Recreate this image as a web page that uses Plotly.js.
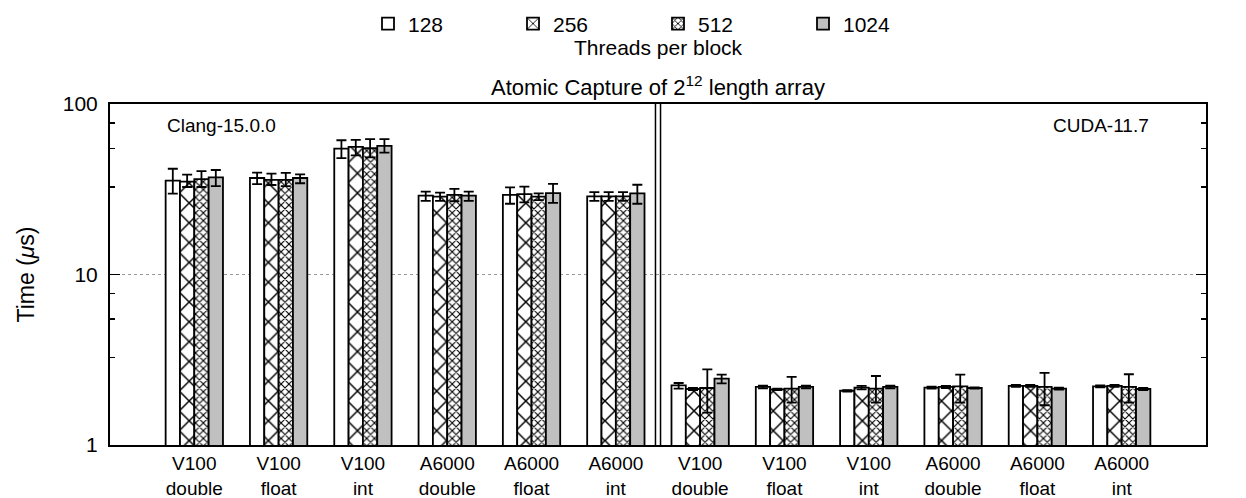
<!DOCTYPE html>
<html>
<head>
<meta charset="utf-8">
<script src="https://cdn.plot.ly/plotly-3.0.1.min.js"></script>
<style>
  body { margin: 0; background: #fff; }
  #chart { width: 1246px; height: 498px; }
</style>
</head>
<body>
<div id="chart"></div>
<script>
// categories (two line labels), left half is Clang, right half is CUDA
const devices = ["V100", "V100", "V100", "A6000", "A6000", "A6000",
                 "V100", "V100", "V100", "A6000", "A6000", "A6000"];
const types = ["double", "float", "int", "double", "float", "int",
               "double", "float", "int", "double", "float", "int"];
const threads = ["128", "256", "512", "1024"];

// mean time (us) and error bar bounds
const t128 = [35.5, 36.8, 54.8, 29.0, 29.3, 28.7, 2.24, 2.19, 2.08, 2.17, 2.22, 2.21];
const t128Hi = [41.7, 39.6, 61.3, 30.6, 32.4, 30.4, 2.31, 2.23, 2.10, 2.20, 2.25, 2.24];
const t128Lo = [29.8, 33.9, 48.1, 27.0, 26.0, 27.0, 2.14, 2.15, 2.06, 2.14, 2.19, 2.18];

const t256 = [35.1, 35.9, 56.0, 28.6, 29.6, 28.7, 2.13, 2.12, 2.17, 2.19, 2.22, 2.22];
const t256Hi = [38.5, 39.1, 61.6, 30.2, 32.8, 30.4, 2.16, 2.14, 2.22, 2.22, 2.25, 2.25];
const t256Lo = [32.6, 33.5, 50.0, 27.0, 26.5, 27.0, 2.10, 2.10, 2.12, 2.16, 2.19, 2.19];

const t512 = [36.3, 35.9, 55.0, 29.3, 28.6, 28.7, 2.16, 2.14, 2.14, 2.21, 2.19, 2.19];
const t512Hi = [40.4, 39.4, 62.2, 31.8, 29.9, 30.4, 2.78, 2.51, 2.54, 2.59, 2.65, 2.60];
const t512Lo = [32.6, 33.0, 48.6, 26.9, 27.3, 27.0, 1.55, 1.77, 1.77, 1.77, 1.71, 1.77];

const t1024 = [37.1, 36.8, 56.8, 29.0, 30.0, 29.9, 2.45, 2.19, 2.19, 2.16, 2.14, 2.13];
const t1024Hi = [41.0, 38.7, 62.2, 30.6, 34.0, 33.6, 2.59, 2.23, 2.23, 2.18, 2.17, 2.16];
const t1024Lo = [33.0, 34.3, 51.9, 27.0, 26.3, 26.0, 2.30, 2.15, 2.15, 2.14, 2.11, 2.10];

const yTicks = [1, 10, 100];
const yMinor = [3.25, 5.5, 7.75, 32.5, 55, 77.5];
const sectionLabels = ["Clang-15.0.0", "CUDA-11.7"];

const font = "Liberation Sans, Arial, sans-serif";
const xIdx = devices.map((d, i) => i);
const tickText = devices.map((d, i) => d + "<br>" + types[i]);

const makeBar = function (name, vals, hi, lo, pattern) {
  return {
    type: "bar",
    name: name,
    x: xIdx,
    y: vals,
    marker: {
      color: pattern.bg,
      line: { color: "#000", width: 1.8 },
      pattern: pattern.shape
        ? { shape: pattern.shape, size: pattern.size, solidity: pattern.solidity,
            fgcolor: "#000", fgopacity: 1, bgcolor: pattern.bg, fillmode: "overlay" }
        : undefined,
    },
    error_y: {
      type: "data",
      symmetric: false,
      array: hi.map((h, i) => h - vals[i]),
      arrayminus: lo.map((l, i) => vals[i] - l),
      color: "#000",
      thickness: 1.8,
      width: 5,
    },
    hoverinfo: "y",
  };
};

const data = [
  makeBar(threads[0], t128, t128Hi, t128Lo, { bg: "#fff" }),
  makeBar(threads[1], t256, t256Hi, t256Lo, { bg: "#fff", shape: "x", size: 14, solidity: 0.2 }),
  makeBar(threads[2], t512, t512Hi, t512Lo, { bg: "#fff", shape: "x", size: 5.5, solidity: 0.36 }),
  makeBar(threads[3], t1024, t1024Hi, t1024Lo, { bg: "#c0c0c0" }),
];

const layout = {
  width: 1246,
  height: 498,
  margin: { l: 110, r: 40, t: 104, b: 53, autoexpand: false },
  paper_bgcolor: "#fff",
  plot_bgcolor: "#fff",
  font: { family: font, size: 21, color: "#000" },
  barmode: "group",
  bargap: 0.32,
  bargroupgap: 0,
  title: {
    text: "Atomic Capture of 2<sup>12</sup> length array",
    font: { family: font, size: 22, color: "#000" },
    x: 0.5,
    xref: "paper",
    y: 0.825,
    yanchor: "middle",
  },
  showlegend: true,
  legend: {
    orientation: "h",
    x: 0.5,
    xanchor: "center",
    y: 1.295,
    yanchor: "top",
    font: { family: font, size: 21 },
    traceorder: "normal",
    entrywidth: 100,
    entrywidthmode: "pixels",
    itemwidth: 30,
  },
  xaxis: {
    range: [-1, 12],
    tickmode: "array",
    tickvals: xIdx,
    ticktext: tickText,
    ticks: "",
    ticklabelstandoff: 0,
    showgrid: false,
    zeroline: false,
    showline: true,
    mirror: true,
    linecolor: "#000",
    linewidth: 2,
    automargin: false,
    tickfont: { family: font, size: 19 },
  },
  yaxis: {
    type: "log",
    range: [0, 2],
    tickmode: "array",
    tickvals: yTicks,
    ticktext: yTicks.map(String),
    ticks: "inside",
    ticklen: 10,
    tickwidth: 1.5,
    tickcolor: "#000",
    ticklabelstandoff: 6,
    showline: true,
    mirror: "allticks",
    linecolor: "#000",
    linewidth: 2,
    showgrid: true,
    gridcolor: "#999",
    griddash: "dot",
    gridwidth: 1,
    zeroline: false,
    automargin: false,
    minor: {
      tickmode: "array",
      tickvals: yMinor,
      ticks: "inside",
      ticklen: 5,
      tickwidth: 1.5,
      tickcolor: "#000",
      showgrid: false,
    },
    tickfont: { family: font, size: 21 },
    title: { text: "Time (<i>μ</i>s)", font: { family: font, size: 23 }, standoff: 22 },
  },
  shapes: [5.47, 5.53].map((x) => ({
    type: "line",
    xref: "x",
    yref: "paper",
    x0: x,
    x1: x,
    y0: 0,
    y1: 1,
    line: { color: "#000", width: 1.5 },
  })),
  annotations: [
    {
      text: sectionLabels[0],
      xref: "paper", yref: "paper",
      x: 0.05, y: 0.938,
      xanchor: "left", yanchor: "middle",
      showarrow: false,
      font: { family: font, size: 19 },
    },
    {
      text: sectionLabels[1],
      xref: "paper", yref: "paper",
      x: 0.95, y: 0.938,
      xanchor: "right", yanchor: "middle",
      showarrow: false,
      font: { family: font, size: 19 },
    },
    {
      text: "Threads per block",
      xref: "paper", yref: "paper",
      x: 0.5, y: 1.165,
      xanchor: "center", yanchor: "middle",
      showarrow: false,
      font: { family: font, size: 21 },
    },
  ],
};

Plotly.newPlot("chart", data, layout, { displayModeBar: false, staticPlot: true });
</script>
</body>
</html>
